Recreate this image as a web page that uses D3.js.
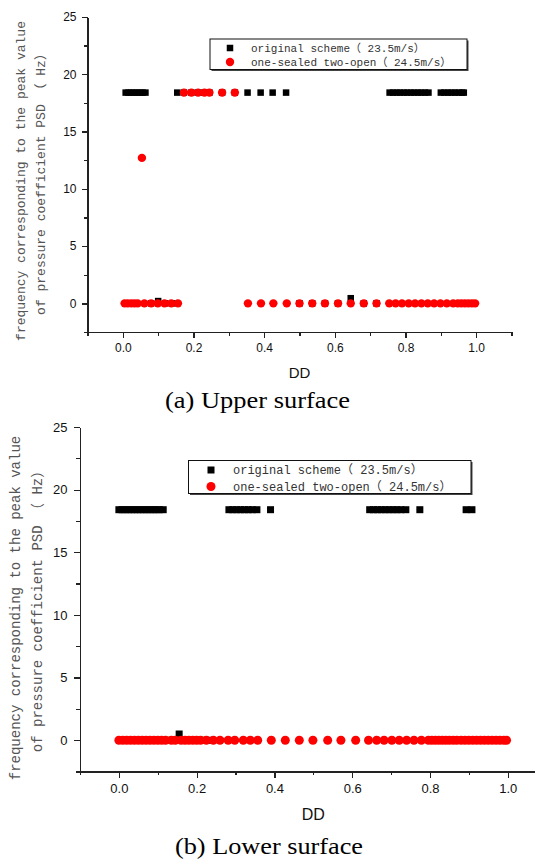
<!DOCTYPE html>
<html>
<head>
<meta charset="utf-8">
<script src="https://cdn.jsdelivr.net/npm/d3@7"></script>
<style>
  body { margin: 0; background: #fff; }
  .axis path, .axis line { stroke: #222; stroke-width: 1.3; shape-rendering: crispEdges; }
  .axis text { font-family: "Liberation Sans", Arial, sans-serif; fill: #111; }
  .yLabel { font-family: "Liberation Mono", "Noto Sans CJK SC", monospace; fill: #555; }
  .legendText { font-family: "Liberation Mono", "Noto Sans CJK SC", monospace; fill: #333; }
  .axisLabel { font-family: "Liberation Sans", Arial, sans-serif; fill: #111; }
  .caption { font-family: "Liberation Serif", "Times New Roman", serif; fill: #000; }
</style>
</head>
<body>
<div id="chart"></div>
<script>
// series names + tick values
var seriesNames = ["original scheme（ 23.5m/s）", "one-sealed two-open（ 24.5m/s）"];
var yLabelLines = ["frequency corresponding to the peak value", "of pressure coefficient PSD （ Hz）"];
var xTicks = [0, 0.2, 0.4, 0.6, 0.8, 1.0];
var xMinorTicks = [-0.1, 0.1, 0.3, 0.5, 0.7, 0.9, 1.1];
var yTicks = [0, 5, 10, 15, 20, 25];
var yMinorTicks = [-2.5, 2.5, 7.5, 12.5, 17.5, 22.5];

// (a) upper surface  [DD, Hz]
var upperOriginal = [
  [0.008,18.4],[0.016,18.4],[0.024,18.4],[0.032,18.4],[0.040,18.4],[0.048,18.4],[0.056,18.4],[0.064,18.4],
  [0.154,18.4],[0.173,18.4],[0.194,18.4],[0.213,18.4],[0.231,18.4],[0.245,18.4],[0.281,18.4],[0.317,18.4],
  [0.353,18.4],[0.390,18.4],[0.424,18.4],[0.462,18.4],
  [0.755,18.4],[0.765,18.4],[0.775,18.4],[0.785,18.4],[0.795,18.4],[0.805,18.4],[0.815,18.4],[0.825,18.4],
  [0.835,18.4],[0.845,18.4],[0.855,18.4],[0.865,18.4],
  [0.900,18.4],[0.910,18.4],[0.920,18.4],[0.930,18.4],[0.940,18.4],[0.950,18.4],[0.960,18.4],[0.965,18.4],
  [0.080,0],[0.100,0.2],[0.120,0],[0.140,0],[0.500,0],[0.536,0],[0.572,0],[0.609,0],[0.645,0.45],[0.682,0],[0.718,0]
];
var upperSealed = [
  [0.173,18.4],[0.194,18.4],[0.213,18.4],[0.231,18.4],[0.245,18.4],[0.281,18.4],[0.317,18.4],
  [0.054,12.7],
  [0.005,0],[0.014,0],[0.024,0],[0.033,0],[0.042,0],[0.061,0],[0.080,0],[0.099,0],[0.118,0],[0.137,0],[0.156,0],
  [0.354,0],[0.391,0],[0.426,0],[0.464,0],[0.500,0],[0.536,0],[0.572,0],[0.609,0],[0.645,0],[0.682,0],[0.718,0],
  [0.754,0],[0.772,0],[0.790,0],[0.809,0],[0.827,0],[0.845,0],[0.863,0],[0.881,0],[0.899,0],[0.917,0],
  [0.935,0],[0.948,0],[0.958,0],[0.968,0],[0.978,0],[0.988,0],[0.997,0]
];

// (b) lower surface  [DD, Hz]
var lowerOriginal = [
  [0.000,18.4],[0.008,18.4],[0.016,18.4],[0.024,18.4],[0.032,18.4],[0.040,18.4],[0.048,18.4],[0.056,18.4],
  [0.064,18.4],[0.072,18.4],[0.080,18.4],[0.088,18.4],[0.096,18.4],[0.104,18.4],[0.114,18.4],
  [0.283,18.4],[0.293,18.4],[0.303,18.4],[0.313,18.4],[0.323,18.4],[0.333,18.4],[0.343,18.4],[0.355,18.4],[0.390,18.4],
  [0.645,18.4],[0.655,18.4],[0.665,18.4],[0.675,18.4],[0.685,18.4],[0.695,18.4],[0.705,18.4],[0.715,18.4],
  [0.725,18.4],[0.738,18.4],[0.774,18.4],[0.893,18.4],[0.908,18.4],
  [0.130,0],[0.140,0],[0.155,0.5],[0.200,0],[0.215,0],[0.230,0],[0.800,0],[0.820,0],[0.840,0],[0.860,0],[0.875,0]
];
var lowerSealed = [
  [0.000,0],[0.010,0],[0.020,0],[0.030,0],[0.040,0],[0.050,0],[0.060,0],[0.070,0],[0.080,0],[0.090,0],
  [0.100,0],[0.110,0],[0.120,0],[0.135,0],[0.145,0],[0.160,0],[0.170,0],[0.180,0],[0.190,0],[0.200,0],
  [0.210,0],[0.225,0],[0.243,0],[0.260,0],[0.281,0],[0.298,0],[0.320,0],[0.338,0],[0.357,0],
  [0.392,0],[0.428,0],[0.464,0],[0.499,0],[0.537,0],[0.571,0],[0.609,0],
  [0.642,0],[0.663,0],[0.682,0],[0.702,0],[0.721,0],[0.740,0],[0.759,0],[0.778,0],
  [0.796,0],[0.805,0],[0.814,0],[0.823,0],[0.832,0],[0.841,0],[0.850,0],[0.860,0],[0.869,0],
  [0.880,0],[0.890,0],[0.900,0],[0.910,0],[0.920,0],[0.930,0],[0.940,0],[0.950,0],[0.960,0],
  [0.970,0],[0.980,0],[0.990,0],[0.997,0]
];

var width = 535, height = 859;

var svg = d3.select("#chart")
  .append("svg")
  .attr("width", width)
  .attr("height", height);

function drawPanel(p, original, sealed, caption) {
  var g = svg.append("g");

  var xScale = d3.scaleLinear().domain([-0.1, 1.1]).range([p.left, p.right]);
  var yScale = d3.scaleLinear().domain([-2.5, 25]).range([p.bottom, p.top]);

  // minor ticks first, then the major ones on top
  g.append("g")
    .attr("class", "axis")
    .attr("transform", `translate(0,${p.bottom})`)
    .call(d3.axisBottom(xScale).tickValues(xMinorTicks).tickSize(p.minor).tickSizeOuter(0).tickFormat(""));
  g.append("g")
    .attr("class", "axis")
    .attr("transform", `translate(${p.left},0)`)
    .call(d3.axisLeft(yScale).tickValues(yMinorTicks).tickSize(p.minor).tickSizeOuter(0).tickFormat(""));

  var xAxis = g.append("g")
    .attr("class", "axis")
    .attr("transform", `translate(0,${p.bottom})`)
    .call(d3.axisBottom(xScale).tickValues(xTicks).tickSize(p.major).tickPadding(p.pad).tickSizeOuter(0)
      .tickFormat(d3.format(".1f")));
  var yAxis = g.append("g")
    .attr("class", "axis")
    .attr("transform", `translate(${p.left},0)`)
    .call(d3.axisLeft(yScale).tickValues(yTicks).tickSize(p.major).tickPadding(p.pad).tickSizeOuter(0));

  g.selectAll(".axis text").style("font-size", p.tickFont + "px");

  // black squares underneath, red dots over them
  g.selectAll(".sq")
    .data(original)
    .enter()
    .append("rect")
    .attr("x", function(d) { return xScale(d[0]) - p.sq / 2; })
    .attr("y", function(d) { return yScale(d[1]) - p.sq / 2; })
    .attr("width", p.sq)
    .attr("height", p.sq)
    .attr("fill", "#000");

  g.selectAll(".dot")
    .data(sealed)
    .enter()
    .append("circle")
    .attr("cx", function(d) { return xScale(d[0]); })
    .attr("cy", function(d) { return yScale(d[1]); })
    .attr("r", p.r)
    .attr("fill", "#ff0000");

  // legend (origin style box with a thin shadow)
  var lg = p.legend;
  g.append("rect")
    .attr("x", lg.x + 1.5).attr("y", lg.y + 1.5)
    .attr("width", lg.w).attr("height", lg.h)
    .attr("fill", "#444");
  g.append("rect")
    .attr("x", lg.x).attr("y", lg.y)
    .attr("width", lg.w).attr("height", lg.h)
    .attr("fill", "#fff")
    .attr("stroke", "#111")
    .attr("stroke-width", 1);
  g.append("rect")
    .attr("x", lg.mx - p.sq / 2).attr("y", lg.row1 - p.sq / 2)
    .attr("width", p.sq).attr("height", p.sq)
    .attr("fill", "#000");
  g.append("circle")
    .attr("cx", lg.mx).attr("cy", lg.row2)
    .attr("r", p.r)
    .attr("fill", "#ff0000");
  g.selectAll(".legendText")
    .data(seriesNames)
    .enter()
    .append("text")
    .attr("class", "legendText")
    .attr("x", lg.tx)
    .attr("y", function(d, i) { return (i == 0 ? lg.row1 : lg.row2) + p.legendFont * 0.36; })
    .style("font-size", p.legendFont + "px")
    .text(function(d) { return d; });

  // y label, two lines
  g.selectAll(".yLabel")
    .data(yLabelLines)
    .enter()
    .append("text")
    .attr("class", "yLabel")
    .attr("transform", function(d, i) { return `translate(${p.yLabelX[i]},${p.yLabelY}) rotate(-90)`; })
    .attr("text-anchor", "middle")
    .attr("dominant-baseline", "central")
    .style("font-size", p.yLabelFont + "px")
    .text(function(d) { return d; });

  g.append("text")
    .attr("class", "axisLabel")
    .attr("x", (p.left + p.right) / 2)
    .attr("y", p.ddY)
    .attr("text-anchor", "middle")
    .style("font-size", p.ddFont + "px")
    .text("DD");

  g.append("text")
    .attr("class", "caption")
    .attr("x", p.capX)
    .attr("y", p.capY)
    .attr("text-anchor", "middle")
    .attr("textLength", p.capW)
    .attr("lengthAdjust", "spacingAndGlyphs")
    .style("font-size", p.capFont + "px")
    .text(caption);
}

drawPanel({
  left: 87.5, right: 511.5, top: 17, bottom: 332,
  major: 6, minor: 3.5, pad: 5, tickFont: 12,
  sq: 6.5, r: 4.2,
  legend: { x: 210, y: 39, w: 257, h: 30.5, mx: 230, tx: 251, row1: 48, row2: 62 },
  legendFont: 11,
  yLabelX: [21.5, 41.5], yLabelY: 181, yLabelFont: 13,
  ddY: 377.5, ddFont: 15,
  capX: 257.5, capY: 407.5, capW: 185, capFont: 23
}, upperOriginal, upperSealed, "(a) Upper surface");

drawPanel({
  left: 80, right: 546.6, top: 427, bottom: 771.6,
  major: 6.5, minor: 3.8, pad: 6, tickFont: 13,
  sq: 7, r: 4.5,
  legend: { x: 188.5, y: 460.5, w: 282.5, h: 33, mx: 211, tx: 233, row1: 470, row2: 486.5 },
  legendFont: 12,
  yLabelX: [15.5, 38], yLabelY: 608, yLabelFont: 14,
  ddY: 820, ddFont: 16,
  capX: 269, capY: 854, capW: 188, capFont: 23
}, lowerOriginal, lowerSealed, "(b) Lower surface");
</script>
</body>
</html>
